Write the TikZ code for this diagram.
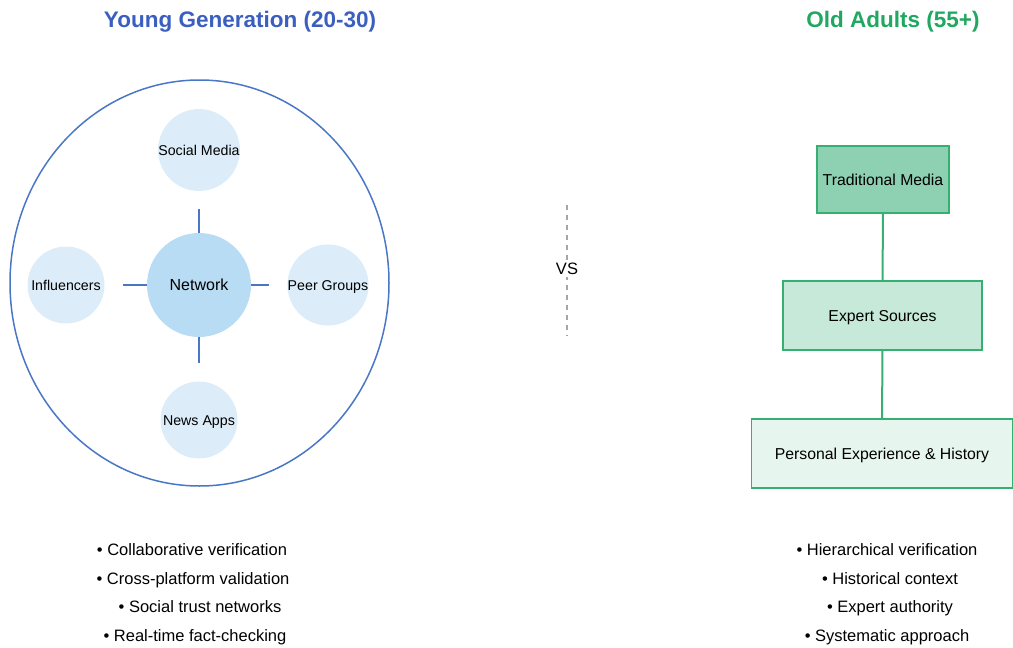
\documentclass[tikz,border=0pt]{standalone}
\usepackage{fontspec}
\setmainfont{Liberation Sans}
\usetikzlibrary{shapes.geometric}
\definecolor{tblue}{HTML}{3A5FBF}
\definecolor{lblue}{HTML}{4A76C6}
\definecolor{netfill}{HTML}{B8DCF3}
\definecolor{satfill}{HTML}{DCEDF9}
\definecolor{tgreen}{HTML}{20A860}
\definecolor{bgreen}{HTML}{35B070}
\definecolor{g1}{HTML}{8ED0B2}
\definecolor{g2}{HTML}{C6E9D9}
\definecolor{g3}{HTML}{E6F6EE}
\begin{document}
\begin{tikzpicture}[x=1pt,y=-1pt,
  title/.style={text height=16.1pt,text depth=0pt,font=\bfseries\fontsize{22.5}{26}\selectfont},
  sat/.style={text height=10.2pt,text depth=0pt,circle,fill=satfill,minimum size=77pt,inner sep=0pt,font=\fontsize{14.2}{17}\selectfont},
  conn/.style={draw=lblue,line width=1.6pt,shorten >=18pt},
  gbox/.style={text height=11.3pt,text depth=0pt,rectangle,draw=bgreen,line width=1.5pt,inner sep=0pt,font=\fontsize{15.8}{19}\selectfont},
  gline/.style={draw=bgreen,line width=2pt},
  bullet/.style={font=\fontsize{16.5}{20}\selectfont,anchor=base}
]
\useasboundingbox (0,0) rectangle (1013,648);
% titles
\node[title,text=tblue] (t1) at (240,19) {Young Generation (20-30)};
\node[title,text=tgreen] (t2) at (893,19) {Old Adults (55+)};
% big ellipse
\node[ellipse,draw=lblue,line width=1.5pt,minimum width=379pt,minimum height=406pt,inner sep=0pt] (outer) at (199.5,283) {};
% network
\node[text height=11.5pt,text depth=0pt,circle,fill=netfill,minimum size=104pt,inner sep=0pt,font=\fontsize{16}{19}\selectfont] (net) at (199,285) {Network};
\node[sat] (sm) at (199,150) {Social Media};
\node[sat] (inf) at (66,285) {Influencers};
\node[sat] (pg) at (328,285) {Peer Groups};
\node[sat] (na) at (199,420) {News Apps};
\draw[conn] (net) -- (sm);
\draw[conn] (net) -- (inf);
\draw[conn] (net) -- (pg);
\draw[conn] (net) -- (na);
% vs
\coordinate (d1) at (567,205);
\coordinate (d2) at (567,336);
\draw[gray!70,line width=1.2pt,dash pattern=on 5pt off 5pt] (d1) -- (d2);
\node[text height=11.8pt,text depth=0pt,fill=white,inner sep=2pt,font=\fontsize{16.5}{19}\selectfont] (vs) at (567,269) {VS};
% right boxes
\node[gbox,fill=g1,minimum width=132pt,minimum height=67pt] (tm) at (883,179.5) {Traditional Media};
\node[gbox,fill=g2,minimum width=199pt,minimum height=69pt] (es) at (882.5,315.5) {Expert Sources};
\node[gbox,fill=g3,minimum width=261pt,minimum height=69pt] (pe) at (882,453.5) {Personal Experience \& History};
\draw[gline] (tm) -- (es);
\draw[gline] (es) -- (pe);
% bullets left
\node[bullet] (l1) at (192,555) {• Collaborative verification};
\node[bullet] (l2) at (193,584) {• Cross-platform validation};
\node[bullet] (l3) at (200,612) {• Social trust networks};
\node[bullet] (l4) at (195,641) {• Real-time fact-checking};
% bullets right
\node[bullet] (r1) at (887,555) {• Hierarchical verification};
\node[bullet] (r2) at (890,584) {• Historical context};
\node[bullet] (r3) at (890,612) {• Expert authority};
\node[bullet] (r4) at (887,641) {• Systematic approach};
\end{tikzpicture}
\end{document}
